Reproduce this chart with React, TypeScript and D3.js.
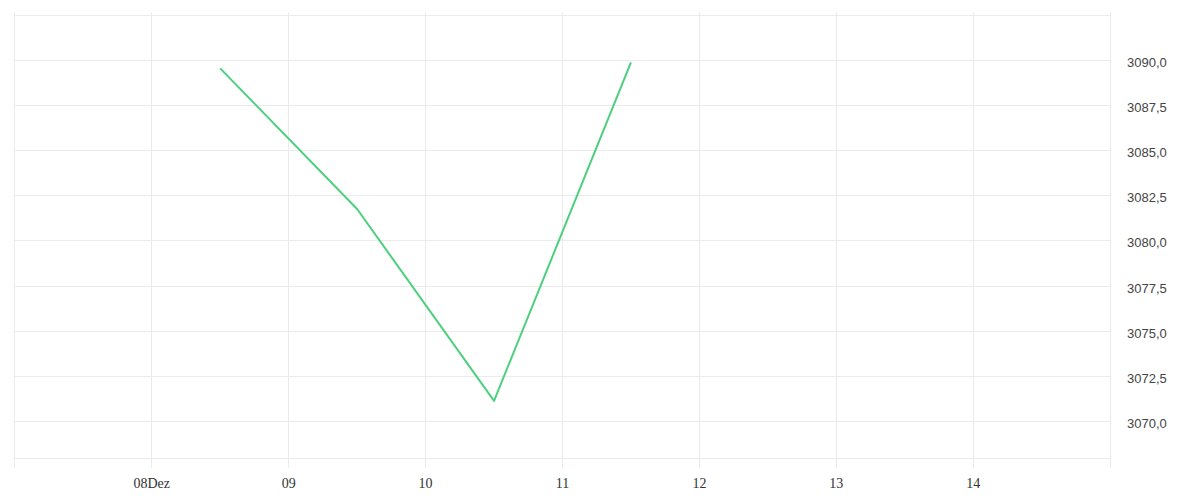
import React from "react";
import * as d3 from "d3";

const dates: string[] = ["2023-12-08T12:00", "2023-12-09T12:00", "2023-12-10T12:00", "2023-12-11T12:00"];
const values: number[] = [3089.56, 3081.77, 3071.14, 3089.89];

const xTickDates: string[] = ["2023-12-07T00:00", "2023-12-08T00:00", "2023-12-09T00:00", "2023-12-10T00:00", "2023-12-11T00:00", "2023-12-12T00:00", "2023-12-13T00:00", "2023-12-14T00:00", "2023-12-15T00:00"];
const xTickLabels: string[] = ["", "08Dez", "09", "10", "11", "12", "13", "14", ""];
const yGridValues: number[] = [3070, 3072.5, 3075, 3077.5, 3080, 3082.5, 3085, 3087.5, 3090, 3092.5];
const yLabelValues: number[] = [3070, 3072.5, 3075, 3077.5, 3080, 3082.5, 3085, 3087.5, 3090];

const W = 1200;
const H = 500;

export default function App() {
  const parse = (s: string) => new Date(s);
  const x = d3
    .scaleTime()
    .domain([parse("2023-12-07T00:00"), parse("2023-12-15T00:00")])
    .range([14.8, 1110.2]);
  const y = d3.scaleLinear().domain([3067.95, 3092.6]).range([458.5, 13.5]);
  const crisp = (v: number) => Math.floor(v) + 0.5;
  const fmt = (v: number) => v.toFixed(1).replace(".", ",");

  const line = d3
    .line<number>()
    .x((_, i) => x(parse(dates[i])))
    .y((d) => y(d));

  const gridColor = "#ebebeb";
  const left = crisp(x(parse(xTickDates[0])));
  const right = crisp(x(parse(xTickDates[xTickDates.length - 1])));

  return (
    <svg width={W} height={H} style={{ position: "absolute", left: 0, top: 0, background: "#fff" }}>
      <g shapeRendering="crispEdges">
        {yGridValues.map((v) => (
          <line key={"h" + v} x1={left} x2={right} y1={crisp(y(v))} y2={crisp(y(v))} stroke={gridColor} strokeWidth={1} />
        ))}
        <line x1={left} x2={right} y1={crisp(y.range()[0])} y2={crisp(y.range()[0])} stroke={gridColor} strokeWidth={1} />
        {xTickDates.map((d) => (
          <line key={"v" + d} x1={crisp(x(parse(d)))} x2={crisp(x(parse(d)))} y1={12} y2={468} stroke={gridColor} strokeWidth={1} />
        ))}
      </g>
      <path d={line(values) || ""} fill="none" stroke="#4dd07e" strokeWidth={2} strokeLinejoin="round" />
      {xTickDates.map((d, i) =>
        xTickLabels[i] ? (
          <text key={"xl" + d} x={x(parse(d))} y={488} textAnchor="middle" fontFamily="'Liberation Serif', serif" fontSize={14} fill="#333">
            {xTickLabels[i]}
          </text>
        ) : null
      )}
      {yLabelValues.map((v) => (
        <text key={"yl" + v} x={1127} y={y(v) + 6.5} textAnchor="start" fontFamily="'Liberation Sans', Arial, sans-serif" fontSize={13} fill="#444">
          {fmt(v)}
        </text>
      ))}
    </svg>
  );
}
